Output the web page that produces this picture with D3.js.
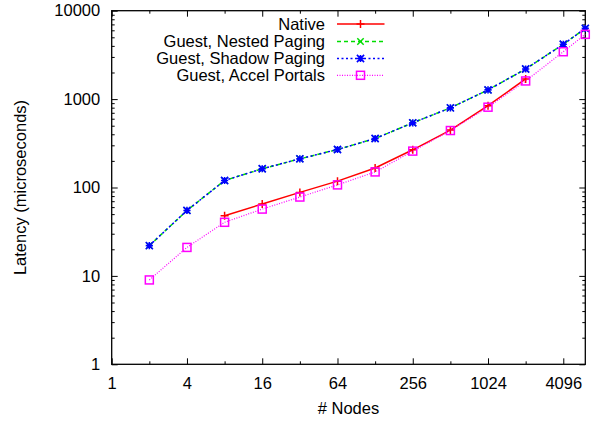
<!DOCTYPE html>
<html>
<head>
<meta charset="utf-8">
<script src="https://cdn.jsdelivr.net/npm/d3@7"></script>
<style>
  html, body { margin: 0; padding: 0; background: #fff; }
  svg { display: block; }
  text { font-family: "Liberation Sans", Arial, sans-serif; fill: #000; }
</style>
</head>
<body>
<svg id="chart" width="593" height="421"></svg>
<script>
// Node counts (x) and measured latencies in microseconds (y)
const nodes = [2, 4, 8, 16, 32, 64, 128, 256, 512, 1024, 2048, 4096, 6144];
const nativeNodes = [8, 16, 32, 64, 128, 256, 512, 1024, 2048];
const nativeLatency = [48, 65, 88, 118, 166, 267, 446, 842, 1690];
const nestedLatency = [22, 55, 120, 163, 211, 269, 358, 539, 796, 1270, 2190, 4170, 6310];
const shadowLatency = [22, 55, 120, 163, 211, 269, 358, 539, 796, 1270, 2190, 4170, 6310];
const accelLatency = [9, 21, 40.4, 57, 78, 107, 150, 258, 441, 810, 1604, 3435, 5400];

const xMajorTicks = [1, 4, 16, 64, 256, 1024, 4096];
const xMinorTicks = [2, 8, 32, 128, 512, 2048];
const yMajorTicks = [1, 10, 100, 1000, 10000];
const seriesNames = ["Native", "Guest, Nested Paging", "Guest, Shadow Paging", "Guest, Accel Portals"];

const svg = d3.select("#chart");
const plotLeft = 111.7, plotRight = 585.3, plotTop = 10.7, plotBottom = 364.3;
const fontSize = 16.5;

const x = d3.scaleLog().base(2).domain([1, 6144]).range([plotLeft, plotRight]);
const y = d3.scaleLog().base(10).domain([1, 10000]).range([plotBottom, plotTop]);

const yMinorTicks = [];
for (let d = 1; d < 10000; d *= 10) for (let k = 2; k <= 9; k++) yMinorTicks.push(d * k);

const fmt = d => String(d);

// Axes: ticks point inward, mirrored on the opposite side
function drawAxis(axis, transform, withLabels) {
  const g = svg.append("g").attr("transform", transform).call(axis);
  g.select(".domain").remove();
  g.selectAll(".tick line").attr("stroke", "#000").attr("stroke-width", 1);
  g.selectAll("text").attr("font-size", fontSize).attr("font-family", '"Liberation Sans", Arial, sans-serif').attr("fill", "#000");
  if (!withLabels) g.selectAll("text").remove();
  return g;
}

drawAxis(d3.axisBottom(x).tickValues(xMajorTicks).tickFormat(fmt).tickSize(-6).tickSizeOuter(0).tickPadding(13), `translate(0,${plotBottom})`, true);
drawAxis(d3.axisBottom(x).tickValues(xMinorTicks).tickSize(-3).tickSizeOuter(0), `translate(0,${plotBottom})`, false);
drawAxis(d3.axisTop(x).tickValues(xMajorTicks).tickSize(-6).tickSizeOuter(0), `translate(0,${plotTop})`, false);
drawAxis(d3.axisTop(x).tickValues(xMinorTicks).tickSize(-3).tickSizeOuter(0), `translate(0,${plotTop})`, false);

drawAxis(d3.axisLeft(y).tickValues(yMajorTicks).tickFormat(fmt).tickSize(-6).tickSizeOuter(0).tickPadding(11.5), `translate(${plotLeft},0)`, true);
drawAxis(d3.axisLeft(y).tickValues(yMinorTicks).tickSize(-3).tickSizeOuter(0), `translate(${plotLeft},0)`, false);
drawAxis(d3.axisRight(y).tickValues(yMajorTicks).tickSize(-6).tickSizeOuter(0), `translate(${plotRight},0)`, false);
drawAxis(d3.axisRight(y).tickValues(yMinorTicks).tickSize(-3).tickSizeOuter(0), `translate(${plotRight},0)`, false);

// Plot border
svg.append("rect")
  .attr("x", plotLeft).attr("y", plotTop)
  .attr("width", plotRight - plotLeft).attr("height", plotBottom - plotTop)
  .attr("fill", "none").attr("stroke", "#000").attr("stroke-width", 1.3);

// Axis titles
svg.append("text")
  .attr("x", (plotLeft + plotRight) / 2).attr("y", 414)
  .attr("text-anchor", "middle").attr("font-size", fontSize)
  .text("# Nodes");
svg.append("text")
  .attr("transform", `translate(26,${(plotTop + plotBottom) / 2}) rotate(-90)`)
  .attr("text-anchor", "middle").attr("font-size", fontSize)
  .text("Latency (microseconds)");

// Point markers
const markers = {
  plus: (g, cx, cy, c) => {
    const s = 4;
    g.append("path").attr("d", `M${cx - s},${cy}H${cx + s}M${cx},${cy - s}V${cy + s}`)
      .attr("stroke", c).attr("stroke-width", 1.5).attr("fill", "none");
  },
  cross: (g, cx, cy, c) => {
    const s = 3.2;
    g.append("path").attr("d", `M${cx - s},${cy - s}L${cx + s},${cy + s}M${cx - s},${cy + s}L${cx + s},${cy - s}`)
      .attr("stroke", c).attr("stroke-width", 1.5).attr("fill", "none");
  },
  star: (g, cx, cy, c) => {
    const s = 3.6, d = 3.6;
    g.append("path").attr("d", `M${cx - s},${cy}H${cx + s}M${cx},${cy - s}V${cy + s}M${cx - d},${cy - d}L${cx + d},${cy + d}M${cx - d},${cy + d}L${cx + d},${cy - d}`)
      .attr("stroke", c).attr("stroke-width", 1.6).attr("fill", "none");
  },
  square: (g, cx, cy, c) => {
    const s = 4;
    g.append("rect").attr("x", cx - s).attr("y", cy - s).attr("width", 2 * s).attr("height", 2 * s)
      .attr("stroke", c).attr("stroke-width", 1.5).attr("fill", "none");
  }
};

const series = [
  { name: seriesNames[0], xs: nativeNodes, ys: nativeLatency, color: "#ff0000", dash: null, width: 1.5, marker: "plus" },
  { name: seriesNames[1], xs: nodes, ys: nestedLatency, color: "#00dd00", dash: "4,3", width: 1.5, marker: "cross" },
  { name: seriesNames[2], xs: nodes, ys: shadowLatency, color: "#0000ff", dash: "2,2.5", width: 1.5, marker: "star" },
  { name: seriesNames[3], xs: nodes, ys: accelLatency, color: "#ff00ff", dash: "1,1.5", width: 1.2, marker: "square" }
];

const line = d3.line().x(d => x(d[0])).y(d => y(d[1]));

series.forEach(s => {
  const pts = s.xs.map((v, i) => [v, s.ys[i]]);
  const g = svg.append("g");
  g.append("path").datum(pts).attr("d", line)
    .attr("fill", "none").attr("stroke", s.color).attr("stroke-width", s.width)
    .attr("stroke-dasharray", s.dash);
  pts.forEach(p => markers[s.marker](g, x(p[0]), y(p[1]), s.color));
});

// Legend
const legendRows = [24, 41.5, 58.5, 75.3];
series.forEach((s, i) => {
  const ly = legendRows[i];
  const g = svg.append("g");
  g.append("text").attr("x", 325).attr("y", ly).attr("dy", "0.35em")
    .attr("text-anchor", "end").attr("font-size", fontSize).text(s.name);
  g.append("line").attr("x1", 337).attr("x2", 384.5).attr("y1", ly).attr("y2", ly)
    .attr("stroke", s.color).attr("stroke-width", s.width).attr("stroke-dasharray", s.dash);
  markers[s.marker](g, 360.5, ly, s.color);
});
</script>
</body>
</html>
